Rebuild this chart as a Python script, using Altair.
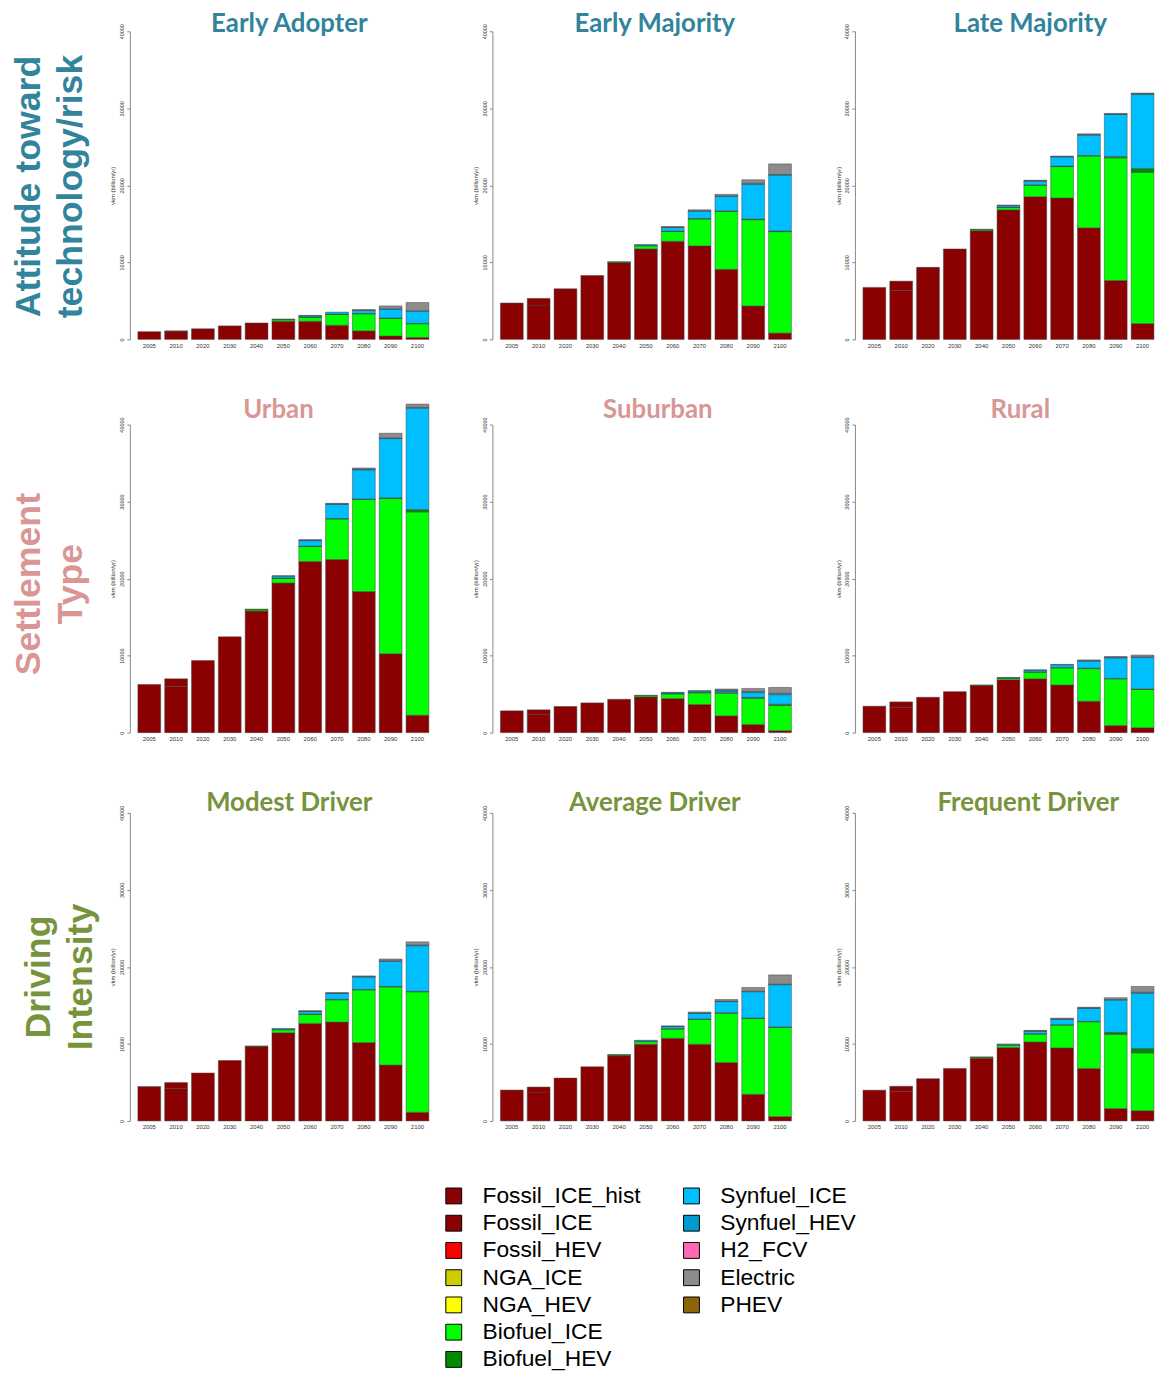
import altair as alt
import pandas as pd

YEARS = ["2005", "2010", "2020", "2030", "2040", "2050", "2060", "2070", "2080", "2090", "2100"]
TECHS = ["Fossil_ICE_hist", "Fossil_ICE", "Fossil_HEV", "NGA_ICE", "NGA_HEV", "Biofuel_ICE",
         "Biofuel_HEV", "Synfuel_ICE", "Synfuel_HEV", "H2_FCV", "Electric", "PHEV"]
COLORS = ["#8B0000", "#8B0000", "#FF0000", "#CDCD00", "#FFFF00", "#00FF00",
          "#008B00", "#00BFFF", "#009ACD", "#FF69B4", "#8C8C8C", "#8B6508"]

# --- Early Adopter
ea_hist = [1000, 980, 0, 0, 0, 0, 0, 0, 0, 0, 0]
ea_fossil = [0, 130, 1370, 1750, 2130, 2350, 2350, 1840, 1110, 430, 260]
ea_bio_ice = [0, 0, 0, 0, 0, 200, 510, 1390, 2200, 2290, 1770]
ea_bio_hev = [0, 0, 0, 0, 0, 100, 60, 60, 60, 60, 60]
ea_syn_ice = [0, 0, 0, 0, 0, 0, 120, 250, 370, 1150, 1580]
ea_syn_hev = [0, 0, 0, 0, 0, 0, 80, 0, 30, 50, 50]
ea_elec = [0, 0, 0, 0, 0, 0, 0, 0, 100, 370, 1060]
# --- Early Majority
em_hist = [4720, 4460, 0, 0, 0, 0, 0, 0, 0, 0, 0]
em_fossil = [0, 860, 6560, 8280, 9950, 11750, 12740, 12140, 9090, 4330, 815]
em_bio_ice = [0, 0, 0, 0, 50, 390, 1270, 3480, 7520, 11210, 13180]
em_bio_hev = [0, 0, 0, 0, 80, 60, 60, 80, 80, 80, 80]
em_syn_ice = [0, 0, 0, 0, 0, 110, 470, 950, 1900, 4510, 7260]
em_syn_hev = [0, 0, 0, 0, 0, 0, 30, 50, 60, 150, 80]
em_elec = [0, 0, 0, 0, 0, 0, 60, 120, 180, 440, 1370]
# --- Late Majority
lm_hist = [6750, 6360, 0, 0, 0, 0, 0, 0, 0, 0, 0]
lm_fossil = [0, 1200, 9350, 11740, 14090, 16820, 18530, 18360, 14480, 7640, 2050]
lm_bio_ice = [0, 0, 0, 0, 120, 300, 1480, 4080, 9330, 15930, 19640]
lm_bio_hev = [0, 0, 0, 0, 90, 60, 60, 60, 60, 170, 510]
lm_syn_ice = [0, 0, 0, 0, 0, 200, 470, 1200, 2650, 5460, 9590]
lm_syn_hev = [0, 0, 0, 0, 0, 60, 60, 40, 70, 60, 130]
lm_elec = [0, 0, 0, 0, 0, 0, 60, 60, 100, 80, 60]
# --- Urban
ur_hist = [6260, 6000, 0, 0, 0, 0, 0, 0, 0, 0, 0]
ur_fossil = [0, 990, 9350, 12440, 15780, 19430, 22220, 22480, 18320, 10250, 2270]
ur_bio_ice = [0, 0, 0, 0, 150, 590, 1950, 5260, 11950, 20150, 26390]
ur_bio_hev = [0, 0, 0, 0, 110, 60, 60, 60, 60, 80, 300]
ur_syn_ice = [0, 0, 0, 0, 0, 230, 700, 1840, 3790, 7700, 13170]
ur_syn_hev = [0, 0, 0, 0, 0, 60, 60, 60, 90, 90, 100]
ur_elec = [0, 0, 0, 0, 0, 0, 60, 70, 150, 600, 430]
# --- Suburban
sb_hist = [2830, 2400, 0, 0, 0, 0, 0, 0, 0, 0, 0]
sb_fossil = [0, 560, 3390, 3860, 4330, 4630, 4420, 3650, 2190, 1070, 260]
sb_bio_ice = [0, 0, 0, 0, 0, 150, 600, 1520, 2940, 3390, 3260]
sb_bio_hev = [0, 0, 0, 0, 0, 70, 60, 60, 60, 130, 170]
sb_syn_ice = [0, 0, 0, 0, 0, 0, 100, 150, 150, 600, 1240]
sb_syn_hev = [0, 0, 0, 0, 0, 0, 50, 70, 200, 150, 170]
sb_elec = [0, 0, 0, 0, 0, 0, 0, 0, 120, 400, 770]
# --- Rural
ru_hist = [3430, 3300, 0, 0, 0, 0, 0, 0, 0, 0, 0]
ru_fossil = [0, 690, 4590, 5320, 6100, 6860, 6990, 6180, 4080, 940, 640]
ru_bio_ice = [0, 0, 0, 0, 40, 200, 860, 2220, 4230, 6040, 4960]
ru_bio_hev = [0, 0, 0, 0, 40, 50, 50, 60, 60, 60, 90]
ru_syn_ice = [0, 0, 0, 0, 0, 50, 200, 340, 930, 2670, 4080]
ru_syn_hev = [0, 0, 0, 0, 0, 0, 50, 60, 60, 80, 80]
ru_elec = [0, 0, 0, 0, 0, 0, 0, 0, 80, 80, 220]
# --- Modest Driver
md_hist = [4460, 4200, 0, 0, 0, 0, 0, 0, 0, 0, 0]
md_fossil = [0, 780, 6220, 7850, 9650, 11450, 12660, 12830, 10170, 7250, 1120]
md_bio_ice = [0, 0, 0, 0, 0, 390, 1180, 2900, 6840, 10150, 15650]
md_bio_hev = [0, 0, 0, 0, 90, 60, 60, 60, 60, 60, 60]
md_syn_ice = [0, 0, 0, 0, 0, 110, 310, 760, 1620, 3250, 5920]
md_syn_hev = [0, 0, 0, 0, 0, 0, 50, 50, 60, 100, 120]
md_elec = [0, 0, 0, 0, 0, 0, 30, 50, 80, 210, 380]
# --- Average Driver
av_hist = [4010, 3750, 0, 0, 0, 0, 0, 0, 0, 0, 0]
av_fossil = [0, 650, 5560, 7030, 8450, 9960, 10730, 9960, 7590, 3450, 560]
av_bio_ice = [0, 0, 0, 0, 70, 340, 1210, 3230, 6400, 9850, 11580]
av_bio_hev = [0, 0, 0, 0, 100, 60, 50, 60, 60, 60, 60]
av_syn_ice = [0, 0, 0, 0, 0, 110, 260, 710, 1450, 3420, 5490]
av_syn_hev = [0, 0, 0, 0, 0, 0, 40, 50, 60, 70, 70]
av_elec = [0, 0, 0, 0, 0, 0, 40, 130, 210, 480, 1200]
# --- Frequent Driver
fr_hist = [3990, 3820, 0, 0, 0, 0, 0, 0, 0, 0, 0]
fr_fossil = [0, 680, 5490, 6820, 8150, 9520, 10250, 9480, 6820, 1630, 1330]
fr_bio_ice = [0, 0, 0, 0, 70, 300, 1030, 2960, 6050, 9610, 7510]
fr_bio_hev = [0, 0, 0, 0, 100, 60, 60, 60, 60, 260, 560]
fr_syn_ice = [0, 0, 0, 0, 0, 120, 320, 700, 1700, 4200, 7160]
fr_syn_hev = [0, 0, 0, 0, 0, 0, 40, 50, 50, 70, 150]
fr_elec = [0, 0, 0, 0, 0, 0, 50, 90, 80, 230, 750]

PANELS = [
    ("Early Adopter", [ea_hist, ea_fossil, ea_bio_ice, ea_bio_hev, ea_syn_ice, ea_syn_hev, ea_elec]),
    ("Early Majority", [em_hist, em_fossil, em_bio_ice, em_bio_hev, em_syn_ice, em_syn_hev, em_elec]),
    ("Late Majority", [lm_hist, lm_fossil, lm_bio_ice, lm_bio_hev, lm_syn_ice, lm_syn_hev, lm_elec]),
    ("Urban", [ur_hist, ur_fossil, ur_bio_ice, ur_bio_hev, ur_syn_ice, ur_syn_hev, ur_elec]),
    ("Suburban", [sb_hist, sb_fossil, sb_bio_ice, sb_bio_hev, sb_syn_ice, sb_syn_hev, sb_elec]),
    ("Rural", [ru_hist, ru_fossil, ru_bio_ice, ru_bio_hev, ru_syn_ice, ru_syn_hev, ru_elec]),
    ("Modest Driver", [md_hist, md_fossil, md_bio_ice, md_bio_hev, md_syn_ice, md_syn_hev, md_elec]),
    ("Average Driver", [av_hist, av_fossil, av_bio_ice, av_bio_hev, av_syn_ice, av_syn_hev, av_elec]),
    ("Frequent Driver", [fr_hist, fr_fossil, fr_bio_ice, fr_bio_hev, fr_syn_ice, fr_syn_hev, fr_elec]),
]
SERIES = ["Fossil_ICE_hist", "Fossil_ICE", "Biofuel_ICE", "Biofuel_HEV", "Synfuel_ICE", "Synfuel_HEV", "Electric"]

ROW_LABELS = [["Attitude toward", "technology/risk"], ["Settlement", "Type"], ["Driving", "Intensity"]]
ROW_COLORS = ["#31849B", "#D99694", "#77933C"]

rows = []
for name, series in PANELS:
    for tech, vals in zip(SERIES, series):
        for yr, v in zip(YEARS, vals):
            if v > 0:
                rows.append({"panel": name, "tech": tech, "year": yr, "value": v, "k": TECHS.index(tech)})
df = pd.DataFrame(rows)

W, H = 310, 311
YMAX = 40000
color_scale = alt.Scale(domain=TECHS, range=COLORS)

# layout tweaks (pixels)
TITLE_OFFSET = [-13, -6, -11]
TITLE_DX = [[6, 9, 22], [-5, 12, 12], [6, 9, 20]]
ROW_TITLE_DX = [-7, -15, -17]
ROW_TITLE_DY = [0, 0, 10]
LABEL_OVERHANG = 7.6  # half the width of the rotated "40000" label


def panel(idx, color, offset, dx):
    name, series = PANELS[idx]
    totals = [sum(s[i] for s in series) for i in range(len(YEARS))]
    over = max(0.0, max(totals) / YMAX * H - H - LABEL_OVERHANG)  # bar sticking out above the axis
    return (
        alt.Chart(df)
        .transform_filter(alt.datum.panel == name)
        .mark_bar(stroke="#444444", strokeWidth=0.5)
        .encode(
            x=alt.X("year:O", sort=YEARS, title=None,
                    scale=alt.Scale(paddingInner=0.15, paddingOuter=0.3),
                    axis=alt.Axis(domain=False, ticks=False, labelAngle=0, labelFontSize=6,
                                  labelPadding=3, labelColor="#333333", labelFont="Liberation Sans")),
            y=alt.Y("value:Q", stack="zero", title="vkm (billion/yr)",
                    scale=alt.Scale(domain=[0, YMAX], nice=False),
                    axis=alt.Axis(values=[0, 10000, 20000, 30000, 40000], format="d", labelAngle=270,
                                  labelAlign="center", labelBaseline="bottom", labelFontSize=5.5,
                                  labelFont="Liberation Sans", labelColor="#333333",
                                  tickSize=3, domainColor="#888888", tickColor="#888888", grid=False,
                                  titleFontSize=6, titleFontWeight="normal", titleFont="Liberation Sans",
                                  titleColor="#333333", titlePadding=4, labelPadding=2)),
            color=alt.Color("tech:N", scale=color_scale, legend=None),
            order=alt.Order("k:Q"),
        )
        .properties(width=W, height=H,
                    title=alt.TitleParams(name, color=color, fontSize=26, font="Lato",
                                          fontWeight="bold", offset=offset - over, dx=dx))
    )


row_charts = []
for r in range(3):
    ps = [panel(3 * r + c, ROW_COLORS[r], TITLE_OFFSET[r], TITLE_DX[r][c]) for c in range(3)]
    row_charts.append(
        alt.hconcat(*ps, spacing=36).properties(
            title=alt.TitleParams(ROW_LABELS[r], orient="left", anchor="middle", fontSize=36,
                                  font="Liberation Sans", fontWeight="bold", color=ROW_COLORS[r],
                                  lineHeight=43, offset=20, dx=ROW_TITLE_DX[r], dy=ROW_TITLE_DY[r])
        )
    )

# custom two-column legend (column-major like the reference)
leg_col = [0] * 7 + [1] * 5
leg_row = list(range(7)) + list(range(5))
leg_df = pd.DataFrame({"tech": TECHS, "col": leg_col, "row": leg_row})
LW, LH = 700, 192.5
x0, step = 327, 240
leg_x = alt.X("col:Q", scale=alt.Scale(domain=[-x0 / step, (LW - x0) / step], nice=False, zero=False), axis=None)
leg_y = alt.Y("row:Q", scale=alt.Scale(domain=[-0.5, 6.5], reverse=True, nice=False, zero=False), axis=None)
leg_base = alt.Chart(leg_df).encode(x=leg_x, y=leg_y)
squares = leg_base.mark_square(size=256, stroke="black", strokeWidth=1, opacity=1).encode(
    color=alt.Color("tech:N", scale=color_scale, legend=None))
labels = leg_base.mark_text(align="left", baseline="middle", dx=29, fontSize=23,
                            font="Liberation Sans", color="black").encode(text="tech:N")
legend = alt.layer(squares, labels).properties(width=LW, height=LH)

chart = (
    alt.vconcat(alt.vconcat(*row_charts, spacing=49), legend, spacing=53)
    .properties(padding={"left": 2, "top": -4, "right": 0, "bottom": 0})
    .configure_view(stroke=None)
)

chart.save("out.html", embed_options={"renderer": "svg", "actions": False})
